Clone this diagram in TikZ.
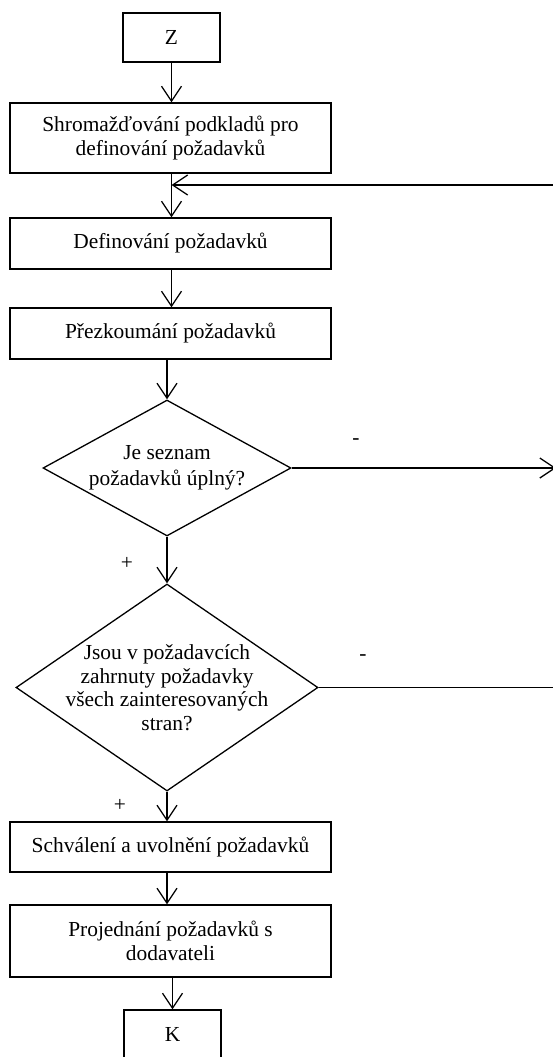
\documentclass[tikz,border=0pt]{standalone}
\usepackage{fontspec}
\setmainfont{Liberation Serif}
\usetikzlibrary{arrows.meta,shapes.geometric}
\begin{document}
\begin{tikzpicture}[x=1pt,y=-1pt,
  every node/.style={font=\fontsize{21.4}{23.5}\selectfont},
  box/.style={draw,line width=1.3pt,rectangle,inner sep=0pt,align=center,
    minimum width=321pt},
  term/.style={draw,line width=1.3pt,rectangle,inner sep=0pt,
    minimum width=97pt,minimum height=49pt},
  decision/.style={draw,line width=1.3pt,diamond,inner sep=0pt},
  flow/.style={line width=1.3pt,-{Straight Barb[length=15pt,width=20pt]}},
  sign/.style={inner sep=0pt}]
\useasboundingbox (0,0) rectangle (553,1057);
\clip (0,0) rectangle (553,1057);

% process steps
\node[term] (Z) at (171.5,37.5) {Z};
\node[box,minimum height=70pt] (b1) at (170.5,138)
  {Shromažďování podkladů pro\\definování požadavků};
\node[box,minimum height=51pt] (b2) at (170.5,243.5) {Definování požadavků};
\node[box,minimum height=51pt] (b3) at (170.5,333.5) {Přezkoumání požadavků};
\node[decision,minimum width=248pt,minimum height=136pt] (d1) at (167,468)
  {};
\node[align=center,font=\fontsize{21.4}{26}\selectfont] (t1) at (d1.center)
  {Je seznam\\požadavků úplný?};
\node[decision,minimum width=302pt,minimum height=207pt] (d2) at (167,687.5)
  {};
\node[align=center] (t2) at (d2.center)
  {Jsou v požadavcích\\zahrnuty požadavky\\všech zainteresovaných\\stran?};
\node[box,minimum height=50pt] (b4) at (170.5,847) {Schválení a uvolnění požadavků};
\node[box,minimum height=72pt] (b5) at (170.5,941)
  {Projednání požadavků s\\dodavateli};
\node[term] (K) at (172.5,1034.5) {K};

% return line, running beyond the right edge
\coordinate (rx) at (556,0);
\coordinate (ret) at (556,185);

% main flow
\draw[flow] (Z.south) -- (Z.south |- b1.north);
\draw[flow] (Z.south |- b1.south) -- (Z.south |- b2.north);
\draw[flow] (Z.south |- b2.south) -- (Z.south |- b3.north);
\draw[flow] (d1.north |- b3.south) -- (d1.north);
\draw[flow] (d1.south) -- (d2.north);
\draw[flow] (d2.south) -- (d2.south |- b4.north);
\draw[flow] (d2.south |- b4.south) -- (d2.south |- b5.north);
\draw[flow] (K.north |- b5.south) -- (K.north);

% negative branches back to the definition step
\draw[flow] (d1.east) -- (d1.east -| rx);
\draw[line width=1.3pt] (d2.east) -- (d2.east -| rx) -- (ret);
\draw[flow] (ret) -- (Z.south |- ret);

% branch signs
\node[sign] (m1) at (356,442) {-};
\node[sign] (m2) at (363,658) {-};
\node[sign] (p1) at (127,563) {+};
\node[sign] (p2) at (120,805) {+};
\end{tikzpicture}
\end{document}
